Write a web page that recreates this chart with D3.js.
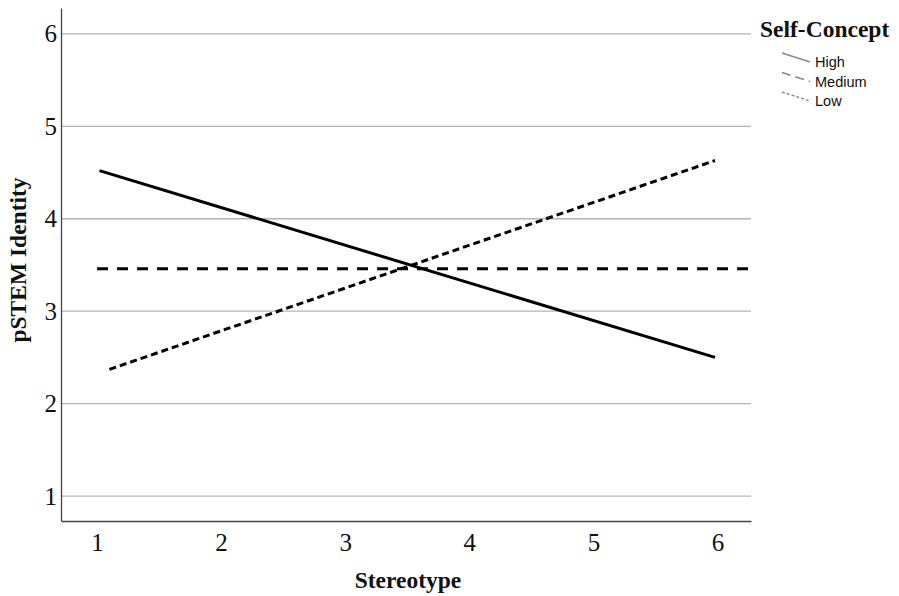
<!DOCTYPE html>
<html lang="en">
<head>
    <meta charset="UTF-8">
    <title>pSTEM Identity by Stereotype</title>
    <script src="https://d3js.org/d3.v7.min.js"></script>
    <style>
        body { margin: 0; background: #fff; }
        svg { display: block; }
        .tick-label { font-family: "Liberation Serif", "Times New Roman", serif; font-size: 25px; fill: #111; }
        .axis-title { font-family: "Liberation Serif", "Times New Roman", serif; font-size: 23.5px; font-weight: bold; fill: #111; }
        .legend-label { font-family: "Liberation Sans", Arial, sans-serif; font-size: 14.5px; fill: #111; }
    </style>
</head>
<body>
<svg id="chart"></svg>
<script>
    // data
    var xTicks = [1, 2, 3, 4, 5, 6];
    var yTicks = [1, 2, 3, 4, 5, 6];
    var groups = ["High", "Medium", "Low"];
    var highLine = [[1.02, 4.52], [5.98, 2.50]];
    var mediumLine = [[1.0, 3.46], [6.27, 3.46]];
    var lowLine = [[1.10, 2.37], [5.98, 4.63]];
    var dashes = { High: null, Medium: "11,9", Low: "7,4" };

    var width = 899, height = 596;
    var plot = { left: 61, right: 751, top: 8, bottom: 521 };

    var svg = d3.select("#chart")
        .attr("width", width)
        .attr("height", height);

    var x = d3.scaleLinear().domain([0.71, 6.27]).range([plot.left, plot.right]);
    var y = d3.scaleLinear().domain([0.73, 6.28]).range([plot.bottom, plot.top]);

    // gridlines
    svg.selectAll(".grid")
        .data(yTicks)
        .enter().append("line")
        .attr("x1", plot.left).attr("x2", plot.right)
        .attr("y1", d => y(d)).attr("y2", d => y(d))
        .attr("stroke", "#b4b4b4")
        .attr("stroke-width", 1.3);

    // axes with no tick marks
    var yAxis = svg.append("g")
        .attr("transform", "translate(" + plot.left + ",0)")
        .call(d3.axisLeft(y).tickValues(yTicks).tickSize(0).tickPadding(4).tickFormat(d3.format("d")));
    var xAxis = svg.append("g")
        .attr("transform", "translate(0," + plot.bottom + ")")
        .call(d3.axisBottom(x).tickValues(xTicks).tickSize(0).tickPadding(12).tickFormat(d3.format("d")));

    [xAxis, yAxis].forEach(function(g) {
        g.select(".domain").attr("stroke", "#444").attr("stroke-width", 1.3);
        g.selectAll("text").attr("class", "tick-label").attr("font-family", null).attr("font-size", null);
    });

    // lines
    var line = d3.line().x(d => x(d[0])).y(d => y(d[1]));
    var series = [["High", highLine], ["Medium", mediumLine], ["Low", lowLine]];

    svg.selectAll(".series")
        .data(series)
        .enter().append("path")
        .attr("d", d => line(d[1]))
        .attr("fill", "none")
        .attr("stroke", "#000")
        .attr("stroke-width", 3)
        .attr("stroke-dasharray", d => dashes[d[0]]);

    // axis titles
    svg.append("text")
        .attr("class", "axis-title")
        .attr("x", 408).attr("y", 588)
        .attr("text-anchor", "middle")
        .text("Stereotype");

    svg.append("text")
        .attr("class", "axis-title")
        .attr("transform", "translate(26,260) rotate(-90)")
        .attr("text-anchor", "middle")
        .text("pSTEM Identity");

    // legend
    var legend = svg.append("g");
    legend.append("text")
        .attr("class", "axis-title")
        .attr("x", 760).attr("y", 37)
        .text("Self-Concept");

    var items = legend.selectAll(".item")
        .data(groups)
        .enter().append("g")
        .attr("transform", (d, i) => "translate(782," + (53 + i * 19.5) + ")");

    items.append("line")
        .attr("x1", 0).attr("y1", 0)
        .attr("x2", 28).attr("y2", 9)
        .attr("stroke", "#888")
        .attr("stroke-width", 1.4)
        .attr("stroke-dasharray", d => d === "Medium" ? "9,5" : (d === "Low" ? "3,2" : null));

    items.append("text")
        .attr("class", "legend-label")
        .attr("x", 33).attr("y", 14)
        .text(d => d);
</script>
</body>
</html>
